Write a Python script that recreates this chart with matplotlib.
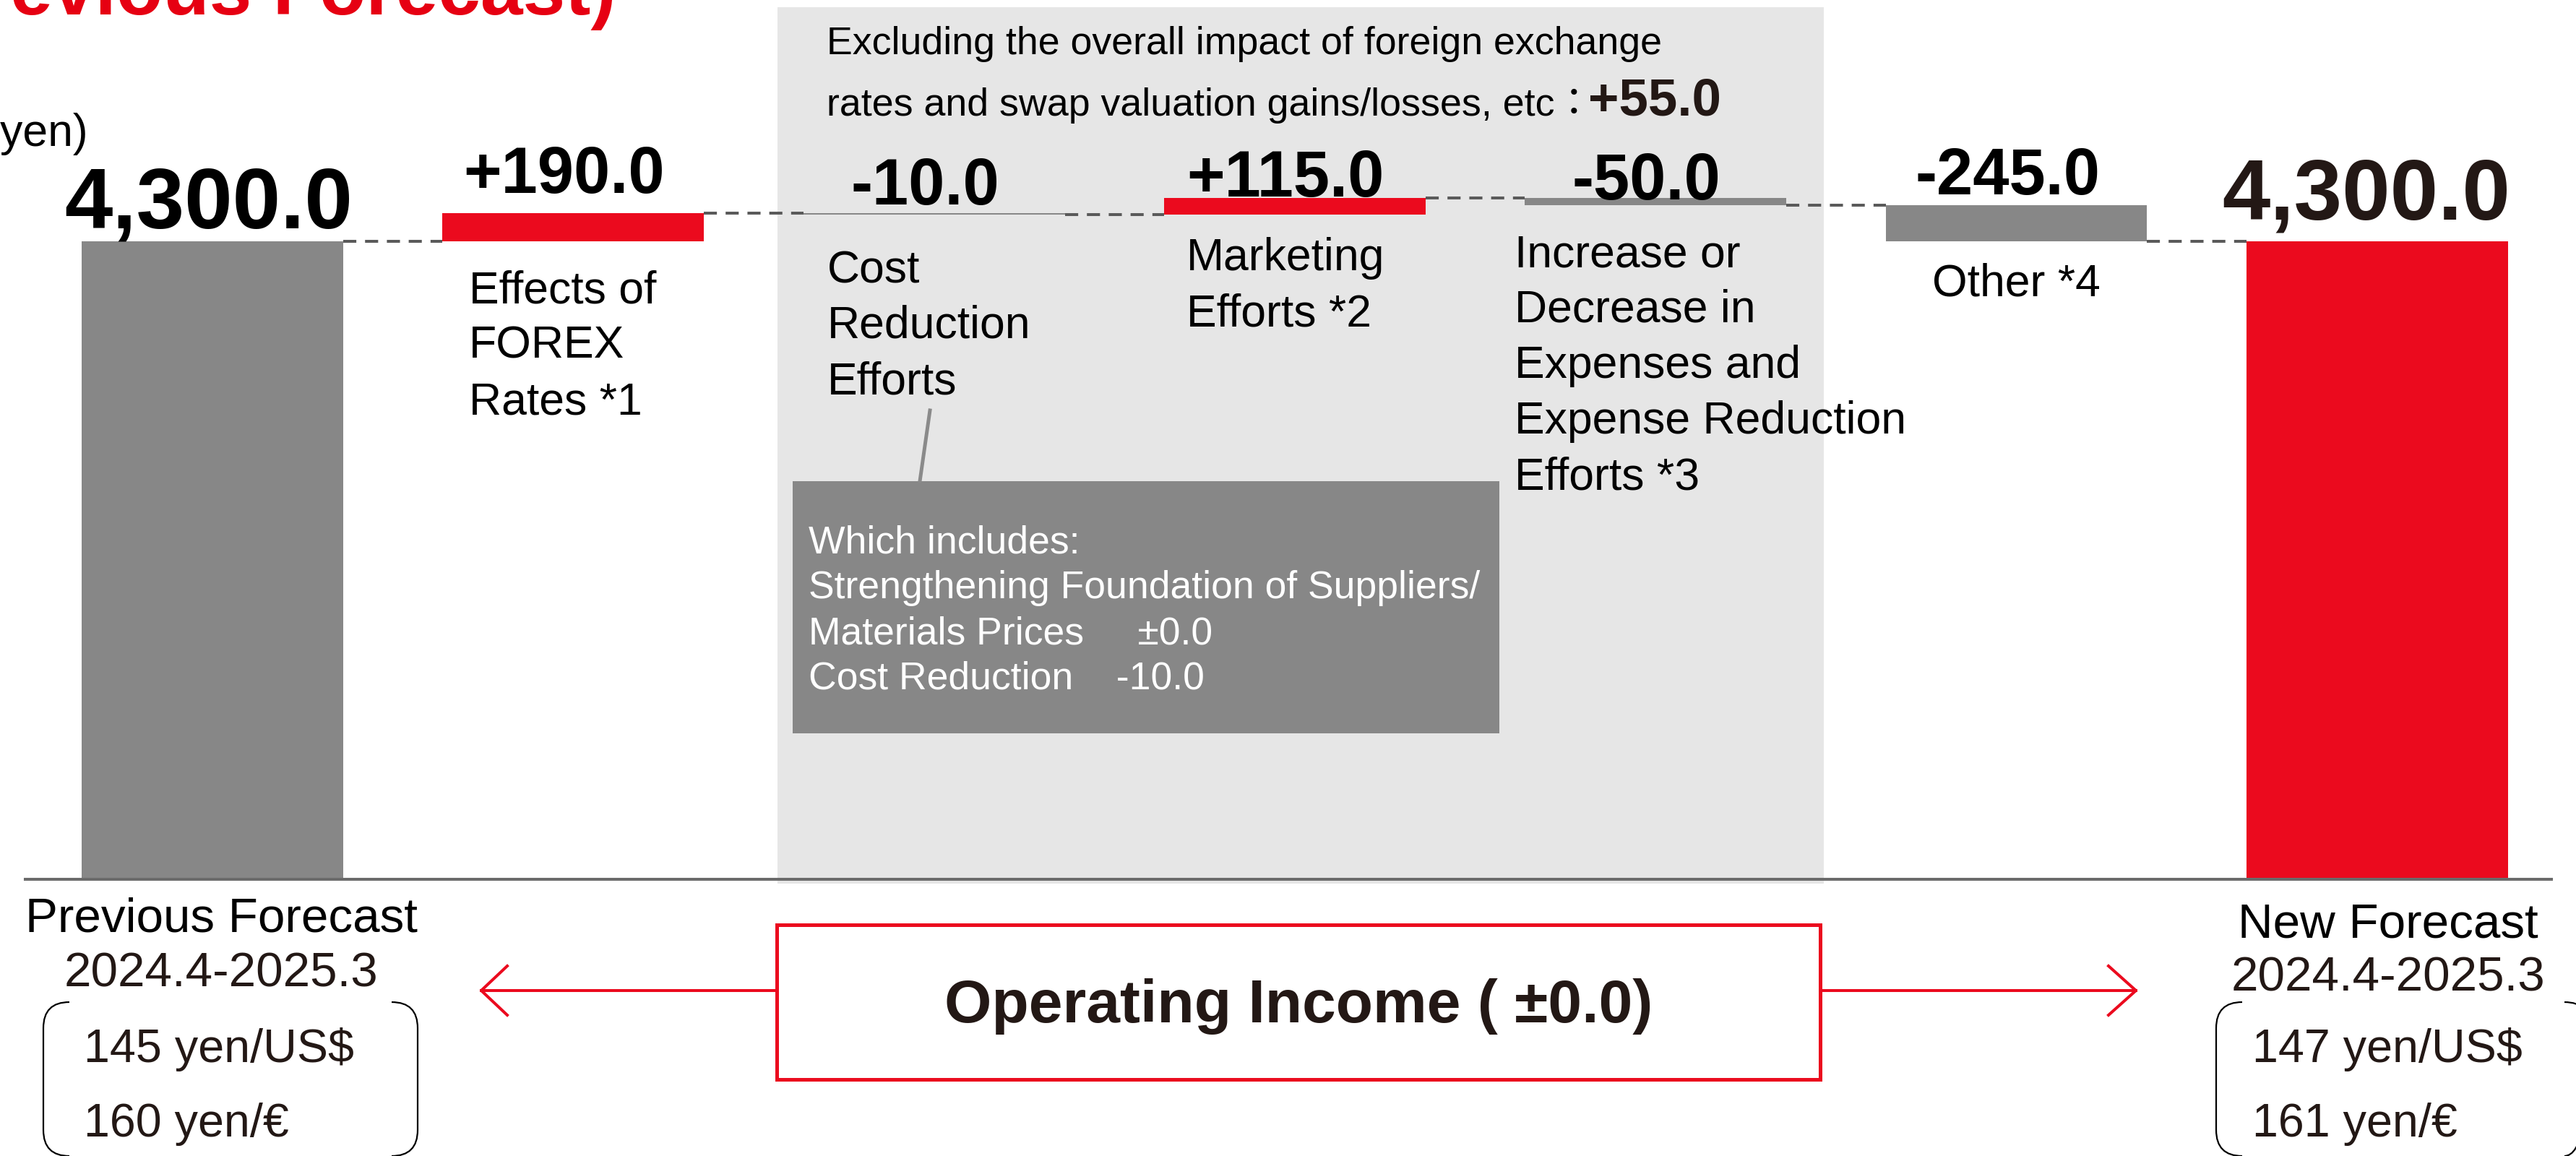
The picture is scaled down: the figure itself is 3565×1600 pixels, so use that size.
import matplotlib
matplotlib.use("Agg")
import matplotlib.pyplot as plt
import numpy as np
from matplotlib.patches import Rectangle, PathPatch
from matplotlib.path import Path
from matplotlib.transforms import blended_transform_factory

plt.rcParams['font.family'] = ['Liberation Sans', 'Noto Sans CJK JP', 'DejaVu Sans']

# ---- data ----
prev_total = 4300.0
new_total = 4300.0
step_labels = ["Effects of\nFOREX\nRates *1",
               "Cost\nReduction\nEfforts",
               "Marketing\nEfforts *2",
               "Increase or\nDecrease in\nExpenses and\nExpense Reduction\nEfforts *3",
               "Other *4"]
step_values = [190.0, -10.0, 115.0, -50.0, -245.0]
prev_label = "Previous Forecast\n2024.4-2025.3"
new_label = "New Forecast\n2024.4-2025.3"
prev_rates = ["145 yen/US$", "160 yen/€"]
new_rates = ["147 yen/US$", "161 yen/€"]
breakdown_lines = ["Which includes:",
                   "Strengthening Foundation of Suppliers/",
                   "Materials Prices     ±0.0",
                   "Cost Reduction    -10.0"]
excl_fx_text = "Excluding the overall impact of foreign exchange\nrates and swap valuation gains/losses, etc："
excl_fx_value = 55.0
op_income_text = "Operating Income ( ±0.0)"
title_text = "(vs. Previous Forecast)"
unit_text = "(100 million yen)"

RED = '#eb0a1e'
GRAY = '#878787'
DARK = '#231815'

W, H = 3565, 1600
fig = plt.figure(figsize=(W / 100, H / 100), dpi=100)

# background layer (pixel coords)
bg = fig.add_axes([0, 0, 1, 1])
bg.set_xlim(0, W); bg.set_ylim(H, 0); bg.axis('off')
# data layer
ax = fig.add_axes([0, 0, 1, 1])
ax.axis('off')
# overlay layer (pixel coords)
ov = fig.add_axes([0, 0, 1, 1])
ov.set_xlim(0, W); ov.set_ylim(H, 0); ov.axis('off')

# scale: category step 499.3 px, first centre at 294 px; 0.2053 px per unit, zero at 1217 px
step_px, x0_px = 499.3, 294
ypx, y0_px = 0.2053, 1217
ax.set_xlim(-x0_px / step_px, (W - x0_px) / step_px)
ax.set_ylim(-(H - y0_px) / ypx, y0_px / ypx)

# shaded block behind the non-FX items
bg.add_patch(Rectangle((1076, 10), 1448, 1213, color='#e6e6e6', lw=0))

# waterfall bars
n = len(step_values) + 2
x = np.arange(n)
bottoms, heights, colors, levels = [0.0], [prev_total], [GRAY], [prev_total]
run = prev_total
for v in step_values:
    bottoms.append(min(run, run + v))
    heights.append(abs(v))
    colors.append(RED if v > 0 else GRAY)
    run += v
    levels.append(run)
bottoms.append(0.0); heights.append(new_total); colors.append(RED)
bw = 0.725
ax.bar(x, heights, bottom=bottoms, width=bw, color=colors, zorder=2)

# dashed connectors
for i, lv in enumerate(levels):
    ax.plot([x[i] + bw / 2, x[i + 1] - bw / 2], [lv, lv], color='#5a5a5a',
            lw=2.9, ls=(0, (4.5, 3)), zorder=3, solid_capstyle='butt')

ax.axhline(0, xmin=35 / W, xmax=3531 / W, color='#6b6b6b', lw=2.9, zorder=3)

# value labels
tr = blended_transform_factory(ax.transData, ov.transData)
lab_y = [267, 283, 272, 276, 269]
for i, v in enumerate(step_values):
    ax.text(x[i + 1] - 0.025, lab_y[i], f"{v:+.1f}", transform=tr, ha='center', va='baseline',
            fontsize=65, fontweight='bold', color='black')
ax.text(x[0] - 0.01, 315, f"{prev_total:,.1f}", transform=tr, ha='center', va='baseline',
        fontsize=86, fontweight='bold', color='black')
ax.text(x[-1] - 0.03, 303, f"{new_total:,.1f}", transform=tr, ha='center', va='baseline',
        fontsize=86, fontweight='bold', color=DARK)

# category labels, one line at a time
lab_dx = [-0.29, -0.296, -0.30, -0.39, 0.0]
lab_base = [419, 391, 374, 369, 410]
lab_ha = ['left', 'left', 'left', 'left', 'center']
for i, lab in enumerate(step_labels):
    for j, line in enumerate(lab.split("\n")):
        ax.text(x[i + 1] + lab_dx[i], lab_base[i] + 77 * j, line, transform=tr,
                ha=lab_ha[i], va='baseline', fontsize=45, color='black')

for xi, lab, yb in [(x[0] + 0.024, prev_label, 1290), (x[-1] + 0.03, new_label, 1297)]:
    l1, l2 = lab.split("\n")
    ax.text(xi, yb, l1, transform=tr, ha='center', va='baseline', fontsize=48.5, color='black')
    ax.text(xi, yb + 75, l2, transform=tr, ha='center', va='baseline', fontsize=48.5, color=DARK)

# FX rate brackets
def bracket(x_left, width, top=1387, bottom=1600, r=36):
    for xs, sgn in [(x_left, 1), (x_left + width, -1)]:
        verts = [(xs + sgn * r, top), (xs, top), (xs, top + r),
                 (xs, bottom - r), (xs, bottom), (xs + sgn * r, bottom)]
        codes = [Path.MOVETO, Path.CURVE3, Path.CURVE3, Path.LINETO, Path.CURVE3, Path.CURVE3]
        ov.add_patch(PathPatch(Path(verts, codes), fill=False, lw=1.6, ec='black'))

bracket(60, 518)
bracket(3067, 518)
for j, t in enumerate(prev_rates):
    ov.text(116, 1470 + 103 * j, t, ha='left', va='baseline', fontsize=46.5, color=DARK)
for j, t in enumerate(new_rates):
    ov.text(3117, 1470 + 103 * j, t, ha='left', va='baseline', fontsize=46.5, color=DARK)

# operating income box and arrows
ov.add_patch(Rectangle((1075, 1280), 1444, 214, fill=False, ec=RED, lw=3.6))
ov.text(1797, 1415, op_income_text, ha='center', va='baseline', fontsize=60.5,
        fontweight='bold', color=DARK)
for x_from, x_to, back in [(1075, 666, 36), (2519, 2956, -38)]:
    ov.plot([x_from, x_to], [1371, 1371], color=RED, lw=2.9)
    ov.plot([x_to + back, x_to, x_to + back], [1337, 1371, 1405], color=RED, lw=2.9)

# breakdown callout
ov.plot([1273, 1287], [666, 568], color='#8a8a8a', lw=3.6)
ov.add_patch(Rectangle((1097, 666), 978, 349, color=GRAY, lw=0))
for j, t in enumerate(breakdown_lines):
    ov.text(1119, 765 + 63 * j, t, ha='left', va='baseline', fontsize=38.5, color='white')

# note in shaded block
l1, l2 = excl_fx_text.split("\n")
ov.text(1144, 75, l1, ha='left', va='baseline', fontsize=38.7, color='black')
ov.text(1144, 160, l2, ha='left', va='baseline', fontsize=38.7, color='black')
ov.text(2198, 160, f"{excl_fx_value:+.1f}", ha='left', va='baseline', fontsize=52.5,
        fontweight='bold', color=DARK)

# clipped title and unit text
ov.text(853, 20, title_text, ha='right', va='baseline', fontsize=76,
        fontweight='bold', color='#e60012')
ov.text(122, 202, unit_text, ha='right', va='baseline', fontsize=45, color='black')

fig.savefig("out.png", dpi=100)
